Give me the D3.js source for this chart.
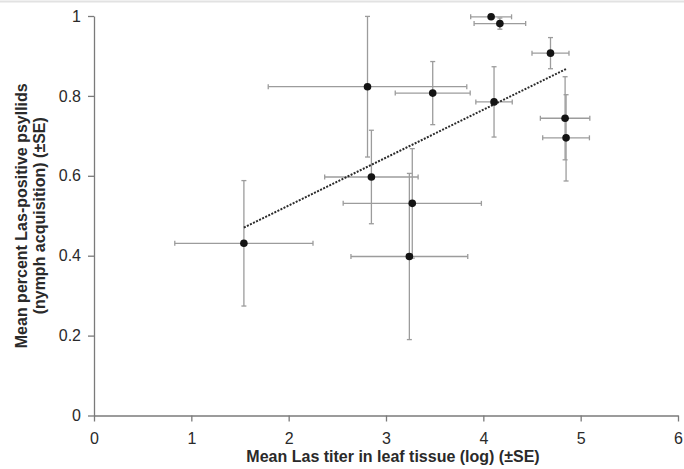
<!DOCTYPE html>
<html>
<head>
<meta charset="utf-8">
<script src="https://cdn.jsdelivr.net/npm/d3@7"></script>
<style>
    body { margin: 0; background: #fff; }
    #chart { font-family: "Liberation Sans", Arial, sans-serif; }
</style>
</head>
<body>
<svg id="chart"></svg>
<script>
// values
var titer    = [1.54, 2.81, 2.85, 3.24, 3.27, 3.48, 4.08, 4.11, 4.17, 4.69, 4.84, 4.85];
var titerSE  = [0.71, 1.02, 0.48, 0.60, 0.71, 0.385, 0.21, 0.187, 0.265, 0.19, 0.254, 0.24];
var acq      = [0.431, 0.823, 0.597, 0.398, 0.531, 0.807, 0.998, 0.785, 0.981, 0.907, 0.744, 0.695];
var acqSE    = [0.157, 0.176, 0.117, 0.208, 0.137, 0.079, 0.004, 0.088, 0.014, 0.039, 0.104, 0.108];
var xTicks = [0, 1, 2, 3, 4, 5, 6];
var yTicks = [0, 0.2, 0.4, 0.6, 0.8, 1];

var W = 684, H = 469;
var margin = { top: 16, right: 6, bottom: 53.5, left: 94 },
    width = W - margin.left - margin.right,
    height = H - margin.top - margin.bottom;

var data = titer.map(function(t, i) {
    return { x: t, xe: titerSE[i], y: acq[i], ye: acqSE[i] };
});

var x = d3.scaleLinear().domain([0, 6]).range([0, width]);
var y = d3.scaleLinear().domain([0, 1]).range([height, 0]);

var svg0 = d3.select("#chart")
    .attr("width", W)
    .attr("height", H);

// faint rule along the top edge of the image
svg0.append("line")
    .attr("x1", 0).attr("x2", W)
    .attr("y1", 1.5).attr("y2", 1.5)
    .attr("stroke", "#e2e2e2")
    .attr("stroke-width", 2);

var svg = svg0.append("g")
    .attr("transform", "translate(" + margin.left + "," + margin.top + ")");

var xAxis = d3.axisBottom(x).tickValues(xTicks).tickSize(6).tickPadding(11).tickSizeOuter(0)
    .tickFormat(function(d) { return d; });
var yAxis = d3.axisLeft(y).tickValues(yTicks).tickSize(6).tickPadding(7).tickSizeOuter(0)
    .tickFormat(function(d) { return d; });

var gx = svg.append("g")
    .attr("transform", "translate(0," + height + ")")
    .call(xAxis);
var gy = svg.append("g").call(yAxis);

[gx, gy].forEach(function(g) {
    g.select(".domain").attr("stroke", "#7a7a7a").attr("stroke-width", 1.3);
    g.selectAll(".tick line").attr("stroke", "#7a7a7a").attr("stroke-width", 1.3);
    g.selectAll(".tick text")
        .attr("fill", "#2a2a2a")
        .style("font-size", "16px")
        .style("font-family", "'Liberation Sans', Arial, sans-serif");
});

// error bars
var errColor = "#9c9c9c", cap = 2.5;
var eb = svg.append("g").attr("class", "errbars")
    .attr("stroke", errColor)
    .attr("stroke-width", 1.3)
    .attr("fill", "none");

data.forEach(function(d) {
    var g = eb.append("g");
    // horizontal
    g.append("line")
        .attr("x1", x(d.x - d.xe)).attr("x2", x(d.x + d.xe))
        .attr("y1", y(d.y)).attr("y2", y(d.y));
    [d.x - d.xe, d.x + d.xe].forEach(function(v) {
        g.append("line")
            .attr("x1", x(v)).attr("x2", x(v))
            .attr("y1", y(d.y) - cap).attr("y2", y(d.y) + cap);
    });
    // vertical
    g.append("line")
        .attr("x1", x(d.x)).attr("x2", x(d.x))
        .attr("y1", y(d.y - d.ye)).attr("y2", y(d.y + d.ye));
    [d.y - d.ye, d.y + d.ye].forEach(function(v) {
        g.append("line")
            .attr("x1", x(d.x) - cap).attr("x2", x(d.x) + cap)
            .attr("y1", y(v)).attr("y2", y(v));
    });
});

// least squares trend line over the range of the data
var mx = d3.mean(data, function(d) { return d.x; }),
    my = d3.mean(data, function(d) { return d.y; });
var slope = d3.sum(data, function(d) { return (d.x - mx) * (d.y - my); }) /
            d3.sum(data, function(d) { return (d.x - mx) * (d.x - mx); });
var icpt = my - slope * mx;
var xr = d3.extent(data, function(d) { return d.x; });

svg.append("line")
    .attr("x1", x(xr[0])).attr("y1", y(icpt + slope * xr[0]))
    .attr("x2", x(xr[1])).attr("y2", y(icpt + slope * xr[1]))
    .attr("stroke", "#2b2b2b")
    .attr("stroke-width", 2)
    .attr("stroke-dasharray", "2,1.4");

svg.selectAll(".dot")
    .data(data)
    .enter().append("circle")
    .attr("class", "dot")
    .attr("cx", function(d) { return x(d.x); })
    .attr("cy", function(d) { return y(d.y); })
    .attr("r", 3.8)
    .attr("fill", "#141414");

// axis titles
svg.append("text")
    .attr("x", width / 2 + 7)
    .attr("y", height + 46.5)
    .attr("text-anchor", "middle")
    .attr("fill", "#2a2a2a")
    .style("font-size", "16px")
    .style("font-weight", "bold")
    .text("Mean Las titer in leaf tissue (log) (±SE)");

var yt = svg.append("text")
    .attr("transform", "translate(" + (-margin.left) + "," + (height / 2) + ") rotate(-90)")
    .attr("text-anchor", "middle")
    .attr("fill", "#2a2a2a")
    .style("font-size", "16px")
    .style("font-weight", "bold");
yt.append("tspan").attr("x", 0).attr("y", 26.5).text("Mean percent Las-positive psyllids");
yt.append("tspan").attr("x", 0).attr("y", 45).text("(nymph acquisition) (±SE)");
</script>
</body>
</html>
